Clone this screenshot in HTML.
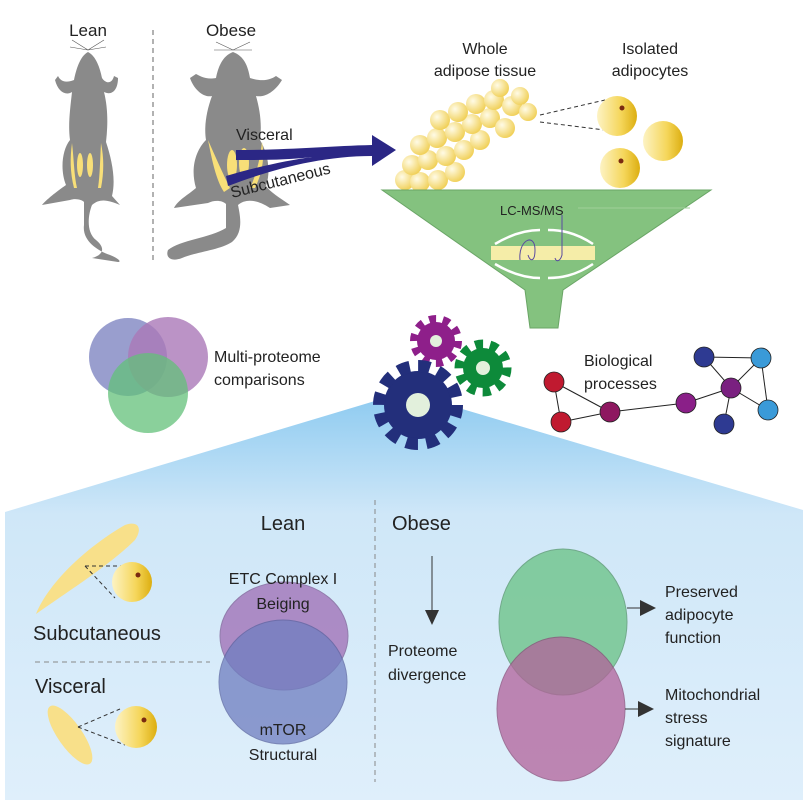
<!DOCTYPE html>
<html><head><meta charset="utf-8"><style>
html,body{margin:0;padding:0;background:#fff}
svg{display:block}
text{font-family:"Liberation Sans",sans-serif;fill:#222}
</style></head><body>
<svg width="803" height="800" viewBox="0 0 803 800" xmlns="http://www.w3.org/2000/svg">
<defs>
<linearGradient id="yb" x1="0" x2="1" y1="0" y2="0"><stop offset="0" stop-color="#fdf3c4"/><stop offset="0.6" stop-color="#f5d65a"/><stop offset="1" stop-color="#dcae10"/></linearGradient>
<linearGradient id="bl" x1="0" x2="0" y1="0" y2="1"><stop offset="0" stop-color="#8ccaf0"/><stop offset="0.3" stop-color="#cfe7f8"/><stop offset="1" stop-color="#dfeffb"/></linearGradient>
<radialGradient id="bub" cx="0.35" cy="0.35" r="0.7"><stop offset="0" stop-color="#fffbe6"/><stop offset="1" stop-color="#f0cf55"/></radialGradient>
</defs>

<path d="M405,392 L803,510 L803,800 L5,800 L5,512 Z" fill="url(#bl)"/>

<text x="88" y="36" font-size="17" text-anchor="middle">Lean</text>
<text x="231" y="36" font-size="17" text-anchor="middle">Obese</text>
<line x1="153" y1="30" x2="153" y2="262" stroke="#999" stroke-width="1.5" stroke-dasharray="5,4"/>

<g fill="#8a8a8a">
<path d="M88,52 C80,56 76,70 74,80 C64,84 60,80 58,76 L55,80 C58,92 66,96 72,92 C70,110 68,125 70,140 C62,150 60,170 66,185 C56,192 46,200 42,205 L70,200 C76,198 82,200 84,202 L84,225 C82,240 96,250 110,255 C118,258 122,262 118,262 L92,258 C100,256 108,250 96,240 C86,232 88,215 92,205 C100,198 108,200 120,205 L112,196 C116,180 112,160 106,142 C108,125 108,108 104,92 C112,96 118,90 118,78 L114,76 C112,84 106,84 102,78 C100,68 96,56 88,52 Z"/>
</g>
<g fill="#f8df78">
<path d="M72,143 C74,160 74,175 77,188 L74,188 C70,172 70,158 72,143Z"/>
<path d="M101,143 C100,160 100,175 98,188 L101,188 C104,172 104,158 101,143Z"/>
<ellipse cx="80" cy="165" rx="3" ry="12"/><ellipse cx="90" cy="165" rx="3" ry="12"/>
</g>
<g stroke="#555" stroke-width="0.6"><line x1="88" y1="50" x2="72" y2="40"/><line x1="88" y1="50" x2="70" y2="47"/><line x1="88" y1="50" x2="104" y2="40"/><line x1="88" y1="50" x2="106" y2="47"/></g>

<g fill="#8a8a8a">
<path d="M233,52 C222,56 218,68 216,78 C206,80 200,76 196,74 L190,78 C194,90 204,98 212,96 C206,112 204,128 206,140 C196,150 190,168 196,188 C188,195 178,200 174,208 L208,203 C214,200 222,200 226,204 L226,228 C210,238 180,240 168,250 C165,258 172,262 182,258 C196,252 220,250 232,242 C244,232 240,215 238,205 C246,198 258,200 270,208 L290,205 C280,198 270,192 266,186 C272,168 266,150 260,140 C262,124 260,110 256,96 C266,98 276,90 282,80 L276,76 C270,80 262,82 250,78 C248,66 244,56 233,52 Z"/>
</g>
<g fill="#f8df78">
<path d="M208,140 C212,160 216,180 224,192 L230,188 C222,172 216,158 208,140Z"/>
<ellipse cx="232" cy="165" rx="5" ry="15"/><ellipse cx="244" cy="163" rx="5" ry="15"/>
<path d="M262,142 C260,160 256,175 250,188 L255,188 C262,174 265,158 262,142Z"/>
</g>
<g stroke="#555" stroke-width="0.6"><line x1="233" y1="50" x2="216" y2="42"/><line x1="233" y1="50" x2="214" y2="50"/><line x1="233" y1="50" x2="250" y2="42"/><line x1="233" y1="50" x2="252" y2="50"/></g>

<path d="M236,150 C290,150 330,146 372,145 L372,135 L396,150 L372,166 L372,156 C320,156 270,170 228,186 L226,176 C260,166 290,160 312,157 C290,160 260,160 236,160 Z" fill="#2b2785"/>
<text x="236" y="140" font-size="16">Visceral</text>
<text x="232" y="198" font-size="16" transform="rotate(-14 232 198)">Subcutaneous</text>

<text x="485" y="54" font-size="16" text-anchor="middle">Whole</text>
<text x="485" y="76" font-size="16" text-anchor="middle">adipose tissue</text>
<text x="650" y="54" font-size="16" text-anchor="middle">Isolated</text>
<text x="650" y="76" font-size="16" text-anchor="middle">adipocytes</text>
<g fill="url(#bub)">
<circle cx="405" cy="180" r="10"/><circle cx="420" cy="182" r="10"/><circle cx="438" cy="180" r="10"/><circle cx="455" cy="172" r="10"/>
<circle cx="412" cy="165" r="10"/><circle cx="428" cy="160" r="10"/><circle cx="446" cy="156" r="10"/><circle cx="464" cy="150" r="10"/><circle cx="480" cy="140" r="10"/>
<circle cx="420" cy="145" r="10"/><circle cx="437" cy="138" r="10"/><circle cx="455" cy="132" r="10"/><circle cx="472" cy="124" r="10"/><circle cx="490" cy="118" r="10"/><circle cx="505" cy="128" r="10"/>
<circle cx="440" cy="120" r="10"/><circle cx="458" cy="112" r="10"/><circle cx="476" cy="104" r="10"/><circle cx="494" cy="100" r="10"/><circle cx="512" cy="106" r="10"/><circle cx="528" cy="112" r="9"/><circle cx="520" cy="96" r="9"/><circle cx="500" cy="88" r="9"/>
</g>
<g stroke="#333" stroke-dasharray="4,3" stroke-width="1"><line x1="540" y1="115" x2="605" y2="100"/><line x1="540" y1="122" x2="605" y2="130"/></g>
<circle cx="617" cy="116" r="20" fill="url(#yb)"/><circle cx="622" cy="108" r="2.5" fill="#7a2a10"/>
<circle cx="663" cy="141" r="20" fill="url(#yb)"/>
<circle cx="620" cy="168" r="20" fill="url(#yb)"/><circle cx="621" cy="161" r="2.5" fill="#7a2a10"/>

<path d="M382,190 L711,190 L563,290 L558,328 L530,328 L525,290 Z" fill="#84c27f" stroke="#6aa566" stroke-width="1"/>
<text x="500" y="215" font-size="13">LC-MS/MS</text>
<line x1="578" y1="208" x2="690" y2="208" stroke="#9fd09a" stroke-width="1"/>
<rect x="491" y="246" width="104" height="14" fill="#f5eda8"/>
<path d="M495,244 C515,232 530,230 540,230 M548,230 C560,230 575,232 593,244 M495,264 C515,276 530,278 540,278 M548,278 C560,278 575,276 593,264" stroke="#fff" stroke-width="2.5" fill="none"/>
<path d="M520,260 C518,240 535,232 535,250 C535,262 530,262 528,255 M562,215 L562,255 C560,262 556,262 555,258" stroke="#5a4aa0" stroke-width="1" fill="none"/>

<circle cx="128" cy="357" r="39" fill="#7f86c2" opacity="0.8"/>
<circle cx="168" cy="357" r="40" fill="#aa78b8" opacity="0.8"/>
<circle cx="148" cy="393" r="40" fill="#63c07a" opacity="0.75"/>
<text x="214" y="362" font-size="16">Multi-proteome</text>
<text x="214" y="385" font-size="16">comparisons</text>

<g>
<circle cx="436" cy="341" r="19" fill="#8e1f8a"/>
<circle cx="436" cy="341" r="22" fill="none" stroke="#8e1f8a" stroke-width="8" stroke-dasharray="7,6.8"/>
<circle cx="436" cy="341" r="6" fill="#e2f0dc"/>
<circle cx="483" cy="368" r="20" fill="#0d8a3a"/>
<circle cx="483" cy="368" r="24" fill="none" stroke="#0d8a3a" stroke-width="9" stroke-dasharray="8,7"/>
<circle cx="483" cy="368" r="7" fill="#e2f0dc"/>
<circle cx="418" cy="405" r="34" fill="#232f7b"/>
<circle cx="418" cy="405" r="39" fill="none" stroke="#232f7b" stroke-width="12" stroke-dasharray="12,8.4"/>
<circle cx="418" cy="405" r="12" fill="#e2f0dc"/>
</g>

<g stroke="#222" stroke-width="1">
<line x1="554" y1="382" x2="610" y2="412"/><line x1="554" y1="382" x2="561" y2="422"/><line x1="561" y1="422" x2="610" y2="412"/><line x1="610" y1="412" x2="686" y2="403"/><line x1="686" y1="403" x2="731" y2="388"/>
<line x1="704" y1="357" x2="761" y2="358"/><line x1="704" y1="357" x2="731" y2="388"/><line x1="761" y1="358" x2="731" y2="388"/><line x1="761" y1="358" x2="768" y2="410"/><line x1="731" y1="388" x2="768" y2="410"/><line x1="731" y1="388" x2="724" y2="424"/>
</g>
<text x="584" y="366" font-size="16">Biological</text>
<text x="584" y="389" font-size="16">processes</text>
<g stroke="#222" stroke-width="0.8">
<circle cx="554" cy="382" r="10" fill="#c01a30"/><circle cx="561" cy="422" r="10" fill="#c01a30"/>
<circle cx="610" cy="412" r="10" fill="#8e1860"/><circle cx="686" cy="403" r="10" fill="#8a1f88"/>
<circle cx="731" cy="388" r="10" fill="#7a2080"/><circle cx="704" cy="357" r="10" fill="#2e3a92"/>
<circle cx="761" cy="358" r="10" fill="#3a9ad8"/><circle cx="768" cy="410" r="10" fill="#3a9ad8"/><circle cx="724" cy="424" r="10" fill="#2e3a92"/>
</g>

<text x="283" y="530" font-size="20" text-anchor="middle">Lean</text>
<text x="392" y="530" font-size="20">Obese</text>
<line x1="375" y1="500" x2="375" y2="782" stroke="#888" stroke-dasharray="5,4"/>

<path d="M36,614 C50,580 90,545 125,525 C140,520 142,530 135,540 C110,565 70,590 36,614 Z" fill="#f8e08a"/>
<g stroke="#333" stroke-dasharray="4,3"><line x1="85" y1="566" x2="122" y2="566"/><line x1="85" y1="566" x2="115" y2="598"/></g>
<circle cx="132" cy="582" r="20" fill="url(#yb)"/><circle cx="138" cy="575" r="2.5" fill="#7a2a10"/>
<text x="33" y="640" font-size="20">Subcutaneous</text>
<line x1="35" y1="662" x2="210" y2="662" stroke="#888" stroke-dasharray="5,4"/>
<text x="35" y="693" font-size="20">Visceral</text>
<ellipse cx="70" cy="735" rx="12" ry="35" transform="rotate(-35 70 735)" fill="#f8e08a"/>
<g stroke="#333" stroke-dasharray="4,3"><line x1="78" y1="727" x2="120" y2="709"/><line x1="78" y1="727" x2="125" y2="745"/></g>
<circle cx="136" cy="727" r="21" fill="url(#yb)"/><circle cx="144" cy="720" r="2.5" fill="#7a2a10"/>

<ellipse cx="284" cy="636" rx="64" ry="54" fill="#9e6cb4" opacity="0.75" stroke="#7c5a94"/>
<ellipse cx="283" cy="682" rx="64" ry="62" fill="#6f7ec0" opacity="0.75" stroke="#5a64a0"/>
<text x="283" y="584" font-size="16" text-anchor="middle">ETC Complex I</text>
<text x="283" y="609" font-size="16" text-anchor="middle">Beiging</text>
<text x="283" y="735" font-size="16" text-anchor="middle">mTOR</text>
<text x="283" y="760" font-size="16" text-anchor="middle">Structural</text>

<line x1="432" y1="556" x2="432" y2="612" stroke="#333"/>
<path d="M425,610 L439,610 L432,625 Z" fill="#333"/>
<text x="388" y="656" font-size="16">Proteome</text>
<text x="388" y="680" font-size="16">divergence</text>

<ellipse cx="563" cy="622" rx="64" ry="73" fill="#6fc48a" opacity="0.8" stroke="#5a9a70"/>
<ellipse cx="561" cy="709" rx="64" ry="72" fill="#b2629a" opacity="0.75" stroke="#8a4a78"/>
<line x1="627" y1="608" x2="640" y2="608" stroke="#333"/><path d="M640,600 L656,608 L640,616 Z" fill="#333"/>
<line x1="625" y1="709" x2="638" y2="709" stroke="#333"/><path d="M638,701 L654,709 L638,717 Z" fill="#333"/>
<text x="665" y="597" font-size="16">Preserved</text>
<text x="665" y="620" font-size="16">adipocyte</text>
<text x="665" y="643" font-size="16">function</text>
<text x="665" y="700" font-size="16">Mitochondrial</text>
<text x="665" y="723" font-size="16">stress</text>
<text x="665" y="746" font-size="16">signature</text>
</svg>
</body></html>
